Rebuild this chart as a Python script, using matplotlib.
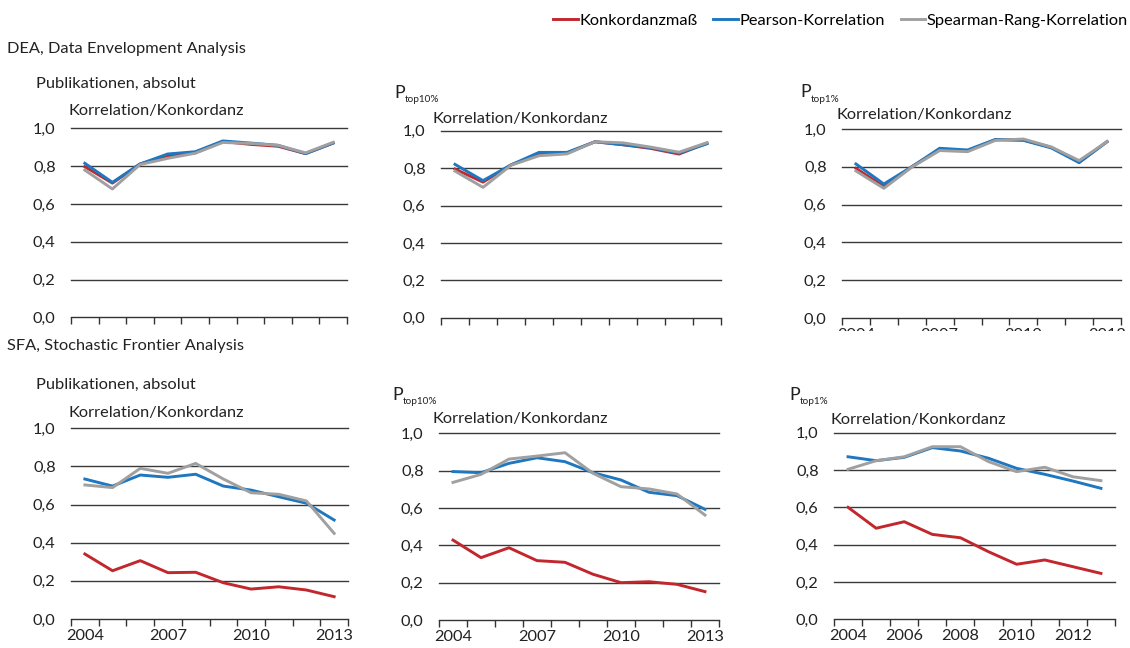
import matplotlib
matplotlib.use("Agg")
import matplotlib.pyplot as plt
from matplotlib.transforms import Bbox
from matplotlib.lines import Line2D

W, H = 1130, 648
plt.rcParams['font.family'] = ['Lato', 'DejaVu Sans']

years = list(range(2004, 2014))

# DEA, Publikationen absolut
dea_abs_konk = [0.797, 0.710, 0.811, 0.855, 0.870, 0.930, 0.915, 0.905, 0.866, 0.922]
dea_abs_pear = [0.815, 0.714, 0.811, 0.864, 0.876, 0.933, 0.922, 0.910, 0.866, 0.922]
dea_abs_spea = [0.779, 0.679, 0.808, 0.841, 0.868, 0.925, 0.920, 0.910, 0.870, 0.926]
# DEA, P top10%
dea_t10_konk = [0.795, 0.725, 0.817, 0.875, 0.880, 0.941, 0.925, 0.905, 0.875, 0.934]
dea_t10_pear = [0.820, 0.733, 0.817, 0.884, 0.884, 0.941, 0.925, 0.909, 0.880, 0.930]
dea_t10_spea = [0.784, 0.697, 0.815, 0.866, 0.876, 0.941, 0.935, 0.912, 0.885, 0.936]
# DEA, P top1%
dea_t1_konk = [0.792, 0.695, 0.800, 0.890, 0.884, 0.943, 0.942, 0.903, 0.825, 0.933]
dea_t1_pear = [0.815, 0.709, 0.800, 0.898, 0.889, 0.945, 0.940, 0.900, 0.822, 0.933]
dea_t1_spea = [0.778, 0.686, 0.798, 0.886, 0.880, 0.940, 0.947, 0.905, 0.833, 0.933]
# SFA, Publikationen absolut
sfa_abs_konk = [0.341, 0.253, 0.306, 0.243, 0.245, 0.190, 0.157, 0.169, 0.152, 0.117]
sfa_abs_pear = [0.734, 0.697, 0.755, 0.743, 0.759, 0.697, 0.676, 0.641, 0.607, 0.519]
sfa_abs_spea = [0.703, 0.689, 0.790, 0.764, 0.816, 0.734, 0.662, 0.654, 0.619, 0.449]
# SFA, P top10%
sfa_t10_konk = [0.428, 0.334, 0.387, 0.318, 0.309, 0.245, 0.200, 0.205, 0.191, 0.152]
sfa_t10_pear = [0.795, 0.789, 0.839, 0.869, 0.848, 0.789, 0.750, 0.684, 0.666, 0.593]
sfa_t10_spea = [0.737, 0.780, 0.862, 0.878, 0.896, 0.786, 0.714, 0.702, 0.675, 0.562]
# SFA, P top1%
sfa_t1_konk = [0.600, 0.488, 0.523, 0.455, 0.437, 0.362, 0.295, 0.318, 0.282, 0.246]
sfa_t1_pear = [0.871, 0.850, 0.868, 0.920, 0.902, 0.863, 0.809, 0.777, 0.741, 0.702]
sfa_t1_spea = [0.804, 0.850, 0.871, 0.925, 0.925, 0.845, 0.791, 0.815, 0.764, 0.743]

y_ticks = [0.0, 0.2, 0.4, 0.6, 0.8, 1.0]
y_ticklabels = ["0,0", "0,2", "0,4", "0,6", "0,8", "1,0"]
series_names = ["Konkordanzmaß", "Pearson-Korrelation", "Spearman-Rang-Korrelation"]
colors = ["#C1272D", "#1F77C0", "#A0A0A0"]

labels_a = [2004, 2007, 2010, 2013]
labels_b = [2004, 2006, 2008, 2010, 2012]

fig = plt.figure(figsize=(W / 100, H / 100), dpi=100)
fig.patch.set_facecolor("white")

def fx(x):
    return x / W

def fy(y):
    return 1 - y / H

FS = 11.8
TC = "#222222"

def panel(x0, x1, ytop, ybot, data, labels, show_labels=True, clip_y=None):
    ax = fig.add_axes([fx(x0), fy(ybot), (x1 - x0) / W, (ybot - ytop) / H])
    n = len(years)
    xs = list(range(n))
    for i in range(3):
        ax.plot(xs, data[i], color=colors[i], lw=2.1, zorder=3 + i)
    ax.set_xlim(-0.5, n - 0.5)
    ax.set_ylim(0, 1)
    ax.set_yticks(y_ticks)
    ax.set_yticklabels(y_ticklabels, fontsize=FS, color=TC)
    ax.tick_params(axis='y', length=0, pad=11)
    for t in y_ticks[1:]:
        ax.axhline(t, color="#3a3a3a", lw=1.0, zorder=1, clip_on=False)
    ax.set_xticks([i - 0.5 for i in range(n + 1)])
    ax.set_xticklabels([])
    ax.tick_params(axis='x', which='major', direction='out', length=5, width=1.0, color="#333333")
    pos = [years.index(y) for y in labels]
    ax.set_xticks(pos, minor=True)
    ax.set_xticklabels([str(y) for y in labels], minor=True, fontsize=FS, color=TC)
    ax.tick_params(axis='x', which='minor', length=0, pad=7)
    for s in ['top', 'right', 'left']:
        ax.spines[s].set_visible(False)
    ax.spines['bottom'].set_color("#333333")
    ax.spines['bottom'].set_linewidth(1.0)
    if not show_labels:
        for lab in ax.get_xticklabels(minor=True):
            if clip_y is None:
                lab.set_visible(False)
            else:
                lab.set_clip_on(True)
                lab.set_clip_box(Bbox.from_extents(0, H - clip_y, W, H))
    ax.set_facecolor("none")
    return ax

panel(71, 347, 128.3, 317.3, [dea_abs_konk, dea_abs_pear, dea_abs_spea], labels_a, show_labels=False)
panel(441, 721, 130.7, 317.7, [dea_t10_konk, dea_t10_pear, dea_t10_spea], labels_a, show_labels=False)
panel(842, 1121, 129, 318, [dea_t1_konk, dea_t1_pear, dea_t1_spea], labels_a, show_labels=False, clip_y=330.5)
panel(71, 348, 428.3, 619, [sfa_abs_konk, sfa_abs_pear, sfa_abs_spea], labels_a)
panel(439, 719, 433.3, 620, [sfa_t10_konk, sfa_t10_pear, sfa_t10_spea], labels_a)
panel(834, 1115, 432.7, 619.3, [sfa_t1_konk, sfa_t1_pear, sfa_t1_spea], labels_b)

def txt(x, y, s, size=FS):
    fig.text(fx(x), fy(y), s, fontsize=size, color=TC, ha='left', va='center')

txt(7, 49, "DEA, Data Envelopment Analysis")
txt(7, 346, "SFA, Stochastic Frontier Analysis")
txt(36, 84, "Publikationen, absolut")
txt(36, 385, "Publikationen, absolut")
txt(68, 111, "Korrelation/Konkordanz")
txt(68, 413, "Korrelation/Konkordanz")
txt(432, 119, "Korrelation/Konkordanz")
txt(432, 419, "Korrelation/Konkordanz")
txt(837, 115, "Korrelation/Konkordanz")
txt(830, 420, "Korrelation/Konkordanz")

def ptxt(x, y, sub):
    txt(x, y, "P", size=FS + 1)
    txt(x + 11, y + 7, sub, size=7.2)

ptxt(394, 93, "top10%")
ptxt(800, 92, "top1%")
ptxt(392, 395, "top10%")
ptxt(789, 395, "top1%")

handles = [Line2D([], [], color=c, lw=2.1) for c in colors]
fig.legend(handles, series_names, loc='center right', bbox_to_anchor=(fx(1128), fy(21)),
           ncol=3, frameon=False, fontsize=FS, handlelength=1.5, handletextpad=0.1,
           columnspacing=0.95, borderpad=0, borderaxespad=0)

fig.savefig("out.png", dpi=100, facecolor="white")
